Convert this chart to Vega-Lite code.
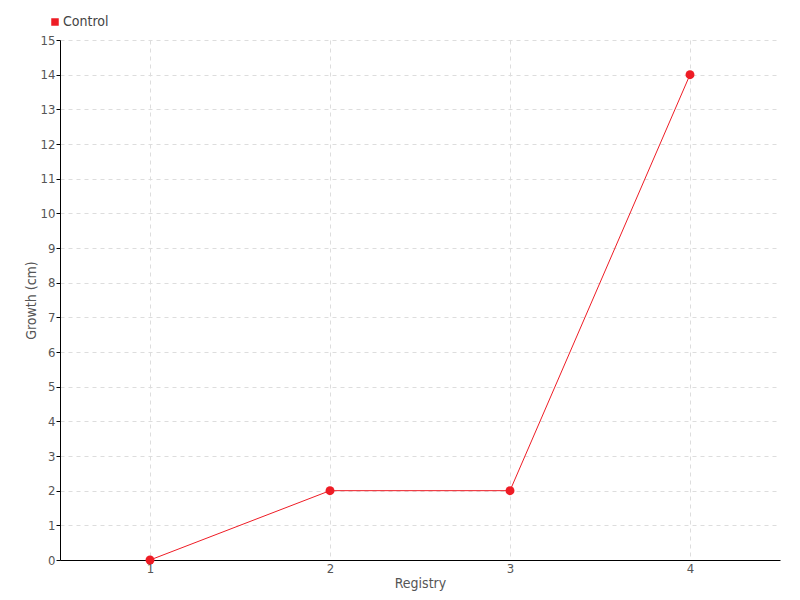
{
  "$schema": "https://vega.github.io/schema/vega-lite/v6.json",
  "autosize": "none",
  "width": 720,
  "height": 520,
  "padding": {"left": 60, "top": 40, "right": 20, "bottom": 40},
  "background": "white",
  "config": {
    "view": {"stroke": null},
    "font": "DejaVu Sans Condensed",
    "axis": {
      "labelFont": "DejaVu Sans Condensed",
      "titleFont": "DejaVu Sans Condensed",
      "labelColor": "#555",
      "titleColor": "#555",
      "labelFontSize": 13,
      "titleFontSize": 14,
      "titleFontWeight": "normal",
      "domainColor": "#000",
      "tickColor": "#000",
      "gridColor": "#ddd",
      "gridDash": [4, 4],
      "labelOverlap": false
    }
  },
  "data": {"values": [
    {"registry": "1", "growth": 0, "group": "Control"},
    {"registry": "2", "growth": 2, "group": "Control"},
    {"registry": "3", "growth": 2, "group": "Control"},
    {"registry": "4", "growth": 14, "group": "Control"}
  ]},
  "encoding": {
    "x": {"field": "registry", "type": "ordinal",
      "scale": {"type": "point", "padding": 0.5},
      "axis": {"title": "Registry", "labelAngle": 0, "grid": true, "ticks": false, "labelPadding": 2, "titlePadding": 1}},
    "y": {"field": "growth", "type": "quantitative",
      "scale": {"domain": [0, 15], "nice": false},
      "axis": {"title": "Growth (cm)", "values": [0,1,2,3,4,5,6,7,8,9,10,11,12,13,14,15], "grid": true, "tickSize": 4, "labelPadding": 1, "titlePadding": 2, "labelFlush": false}},
    "color": {"field": "group", "type": "nominal",
      "scale": {"range": ["#ee1c25"]},
      "legend": {"title": null, "orient": "none", "legendX": -12, "legendY": -25, "symbolType": "square", "symbolSize": 36, "labelFontSize": 14, "labelColor": "#444", "labelFont": "DejaVu Sans Condensed", "labelOffset": 1}}
  },
  "layer": [
    {"mark": {"type": "line", "strokeWidth": 1, "color": "#ff3b47"}},
    {"mark": {"type": "point", "filled": true, "size": 80, "opacity": 1}}
  ]
}
